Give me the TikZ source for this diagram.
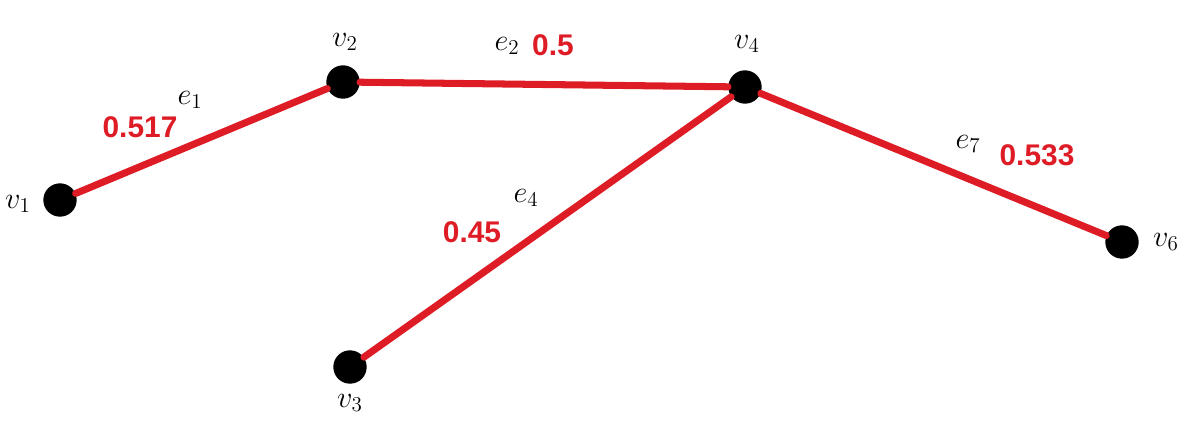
\documentclass[tikz,border=0pt]{standalone}
\usepackage{fontspec}
\newfontfamily\numfont{Liberation Sans}
\definecolor{edgered}{RGB}{222,28,38}
\tikzset{
  vtx/.style={circle,fill=black,inner sep=0pt,minimum size=19pt},
  wt/.style={text=edgered,font=\numfont\bfseries\fontsize{17}{20}\selectfont},
  lbl/.style={font=\fontsize{17}{20}\selectfont}
}
\begin{document}
\begin{tikzpicture}[x=0.02cm,y=-0.02cm,line cap=round,line join=round]
\useasboundingbox (0,0) rectangle (1190,423);

\node[vtx] (v1) at (60,200) {};
\node[vtx] (v2) at (343,82) {};
\node[vtx] (v3) at (350,367) {};
\node[vtx] (v4) at (745,87) {};
\node[vtx] (v6) at (1122,242) {};

\draw[edgered,line width=4pt] (v1)--(v2)--(v4)--(v6);
\draw[edgered,line width=4pt] (v3)--(v4);

\node[lbl] (l1) at (18,204) {$v_1$};
\node[lbl] (l2) at (345,42) {$v_2$};
\node[lbl] (l3) at (350,403) {$v_3$};
\node[lbl] (l4) at (747,44) {$v_4$};
\node[lbl] (l6) at (1166,242) {$v_6$};

\node[lbl] (e1) at (190,100) {$e_1$};
\node[lbl] (e2) at (507,46) {$e_2$};
\node[lbl] (e4) at (526,198) {$e_4$};
\node[lbl] (e7) at (968,144) {$e_7$};

\node[wt] (w1) at (140,127) {0.517};
\node[wt] (w2) at (553,45) {0.5};
\node[wt] (w4) at (472,232) {0.45};
\node[wt] (w7) at (1037,155) {0.533};
\end{tikzpicture}
\end{document}
